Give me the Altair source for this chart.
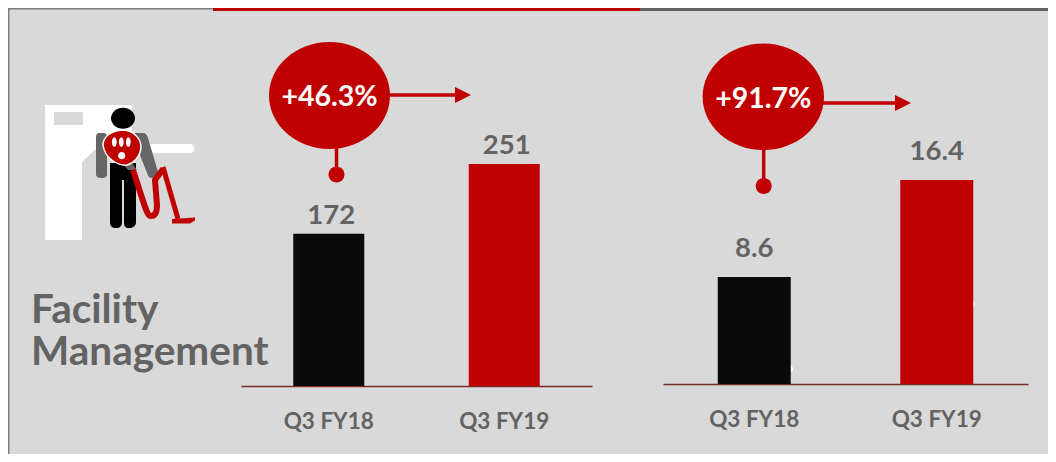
import altair as alt
import pandas as pd

categories = ["Q3 FY18", "Q3 FY19"]
left_values = [172, 251]
right_values = [8.6, 16.4]
bubble_labels = ["+46.3%", "+91.7%"]
title_lines = ["Facility", "Management"]

RED = "#C00000"
GREY = "#636363"
FONT = "Lato"
OX, OY = 8, 8  # page margin: reference pixel -> chart pixel
W, H = 1040, 446


def px(v):
    return alt.value(v - OX)


def py(v):
    return alt.value(v - OY)


def panel(values, x0, x1, base, top, bar_w, label_dx, label_dy):
    df = pd.DataFrame({"cat": categories, "val": values})
    xs = alt.X("cat:N", sort=categories, title=None,
               scale=alt.Scale(domain=categories, range=[x0 - OX, x1 - OX], paddingInner=0, paddingOuter=0),
               axis=alt.Axis(orient="bottom", offset=base - OY - H, ticks=False, labelAngle=0,
                             domainColor="#7B2A2A", domainWidth=1.6, labelPadding=24,
                             labelColor=GREY, labelFont=FONT, labelFontSize=22.5, labelFontWeight="bold",
                             grid=False))
    ys = alt.Y("val:Q", title=None, axis=None,
               scale=alt.Scale(domain=[0, max(values)], range=[base - OY, top - OY], nice=False, zero=True))
    col = alt.Color("cat:N", legend=None, scale=alt.Scale(domain=categories, range=["#0A0A0A", RED]))
    bars = alt.Chart(df).mark_bar(size=bar_w).encode(x=xs, y=ys, color=col)
    text = alt.Chart(df).mark_text(baseline="bottom", dx=label_dx, dy=label_dy, font=FONT, fontSize=27.5,
                                   fontWeight="bold", color=GREY).encode(
        x=xs, y=ys, text=alt.Text("val:Q"))
    return alt.layer(bars, text)


def shape(path, fill=None, stroke=None, sw=0, size=4, x=0, y=0):
    # a custom symbol path is drawn at scale sqrt(size)/2, around the point (x, y)
    kw = dict(shape=path, size=size, opacity=1, filled=fill is not None, strokeWidth=sw)
    if fill is not None:
        kw["fill"] = fill
    if stroke is not None:
        kw["stroke"] = stroke
    return alt.Chart().mark_point(**kw).encode(x=px(x), y=py(y))


def rule(x1, y1, x2, y2, color=RED, w=3.5):
    return alt.Chart().mark_rule(color=color, strokeWidth=w).encode(
        x=px(x1), x2=px(x2), y=py(y1), y2=py(y2))


def rect(x1, y1, x2, y2, color):
    return alt.Chart().mark_rect(color=color).encode(x=px(x1), x2=px(x2), y=py(y1), y2=py(y2))


def ellipse(cx, cy, rx, ry, fill, stroke=None, sw=0):
    k = ry / rx
    p = f"M-1,0C-1,{-k*0.5523:.4f},-0.5523,{-k:.4f},0,{-k:.4f}C0.5523,{-k:.4f},1,{-k*0.5523:.4f},1,0C1,{k*0.5523:.4f},0.5523,{k:.4f},0,{k:.4f}C-0.5523,{k:.4f},-1,{k*0.5523:.4f},-1,0Z"
    return shape(p, fill=fill, stroke=stroke, sw=sw, size=4 * rx * rx, x=cx, y=cy)


def bubble(label, cx, cy, rx, ry, tx, ty, arrow_y, arrow_end, head_end, stem_x, dot_y):
    return [
        rule(cx + rx - 1, arrow_y, arrow_end, arrow_y),
        shape(f"M{arrow_end},{arrow_y-8}L{head_end},{arrow_y}L{arrow_end},{arrow_y+8}Z", fill=RED),
        rule(stem_x, cy + ry - 2, stem_x, dot_y),
        ellipse(stem_x, dot_y, 8, 8, RED),
        ellipse(cx, cy, rx, ry, RED),
        alt.Chart().mark_text(text=label, font=FONT, fontSize=28.5, fontWeight="bold", color="white").encode(
            x=px(tx), y=py(ty)),
    ]


icon = [
    shape("M45,105L132,105L132,132L100,145L82,162L82,240L45,240Z", fill="white"),
    rect(54, 112, 83, 125, "#D9D9D9"),
    shape("M154,144L190,144A4.4,4.4,0,0,1,190,153L154,153L150,153L150,144Z", fill="white"),
    shape("M99,133L104,133C106,133,107,135,107,137L107,174C107,177,105,178,102,178C98,178,96,177,96,174L96,137C96,135,97,133,99,133Z", fill="#666666"),
    shape("M135,133L143,133C146,133,147,135,148,138L158,172C158,175,155,177,152,178C149,178,148,176,147,173L140,155Z", fill="#666666"),
    shape("M110,163L136,163L136,222C136,226,133,228,129,228C125,228,124,226,124,222L124,180L122,180L122,222C122,226,120,228,116,228C112,228,110,226,110,222Z", fill="black"),
    ellipse(123, 118.3, 12, 10.5, "black"),
    shape("M124,165L132,163L137,170L128,170Z", fill="#666666"),
    shape("M133,170L143,201C146,210,148,216,151,216C155,216,157,212,157,205L155,180L163,169", stroke="#C00000", sw=6),
    shape("M163,167L178,219", stroke="#C00000", sw=5),
    shape("M172,219L195,217.5L195,220.5L190,223.5L172,223.5Z", fill=RED),
    shape("M103,145C103,136,112,131,122,130C131,130,140,136,141,146C141,156,134,163,127,165C120,166,105,160,103,145Z", fill=RED, stroke="white", sw=1.5),
    ellipse(114.3, 142, 2.4, 4.8, "white"),
    ellipse(121.3, 142, 2.4, 4.8, "white"),
    ellipse(128.3, 142, 2.4, 4.8, "white"),
    ellipse(121.7, 155.7, 3.6, 3.6, "white"),
]

frame = [
    rect(OX, OY, OX + W, OY + 1.5, "#7F7F7F"),
    rect(OX, OY, OX + 1.5, OY + H, "#7F7F7F"),
    rect(213, OY, 640, OY + 3, RED),
    rect(640, OY, OX + W, OY + 3, "#636363"),
    ellipse(972, 304, 3, 3.5, "white"),
    ellipse(790, 369, 3, 3.5, "white"),
]

title_text = [
    alt.Chart().mark_text(text=title_lines, lineHeight=41.5, align="left", baseline="middle", font=FONT,
                          fontSize=40.5, fontWeight="bold", color=GREY).encode(x=px(31), y=py(311))
]

decor = icon + bubble(bubble_labels[0], 329.5, 95.5, 60.5, 53.5, 329.5, 97, 95, 455, 471, 336.5, 174.5) \
    + bubble(bubble_labels[1], 763.3, 96.7, 60.7, 53.3, 763.3, 98.5, 103, 895, 911, 763.7, 186) + title_text

chart = alt.layer(
    *frame,
    panel(left_values, 241, 592, 386, 164, 71, 2.5, -4),
    panel(right_values, 663, 1028, 384, 180, 73, 0, -14),
    *decor,
).resolve_scale(x="independent", y="independent").properties(
    width=W, height=H, padding=0, background="#D9D9D9", autosize=alt.AutoSizeParams(type="none"),
).configure_view(stroke=None)

chart.save("out.html", embed_options={"renderer": "svg", "actions": False})
